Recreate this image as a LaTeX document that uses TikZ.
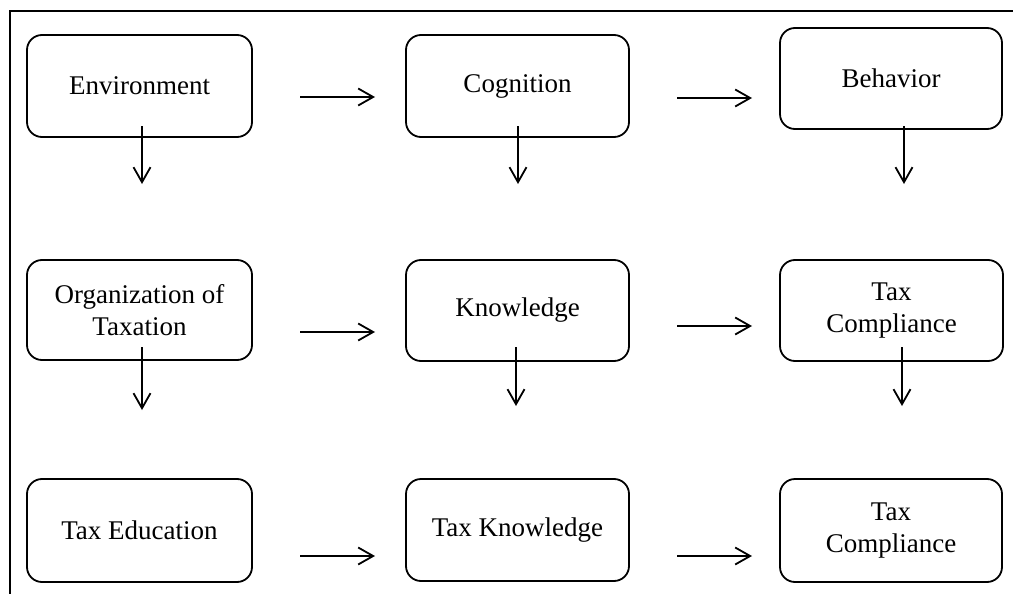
\documentclass[tikz,border=0pt]{standalone}
\usepackage{fontspec}
\setmainfont{Liberation Serif}
\usetikzlibrary{arrows.meta}
\begin{document}
\begin{tikzpicture}[x=1pt,y=-1pt,
  box/.style={draw,line width=1.8pt,rounded corners=15pt,inner sep=0pt,align=center,
    font=\fontsize{27}{32}\selectfont},
  arr/.style={line width=1.8pt,-{Straight Barb[length=15pt,width=17pt,line width=1.8pt]}},
  frame/.style={line width=2pt}]
\useasboundingbox (0,0) rectangle (1013,594);
\draw[frame] (10,594) -- (10,11) -- (1013,11);
% row 1
\node[box,minimum width=225pt,minimum height=102pt] (env) at (139.5,86) {Environment};
\node[box,minimum width=223pt,minimum height=102pt] (cog) at (517.5,86) {Cognition};
\node[box,minimum width=222pt,minimum height=101pt] (beh) at (891,78.5) {Behavior};
% row 2
\node[box,minimum width=225pt,minimum height=100pt] (org) at (139.5,310) {Organization of\\Taxation};
\node[box,minimum width=223pt,minimum height=101pt] (know) at (517.5,310.5) {Knowledge};
\node[box,minimum width=223pt,minimum height=101pt] (tc1) at (891.5,310.5) {Tax\\Compliance};
% row 3
\node[box,minimum width=225pt,minimum height=103pt] (te) at (139.5,530.5) {Tax Education};
\node[box,minimum width=223pt,minimum height=102pt] (tk) at (517.5,530) {Tax Knowledge};
\node[box,minimum width=222pt,minimum height=103pt] (tc2) at (891,530.5) {Tax\\Compliance};
% horizontal arrow end points
\coordinate (h1a) at (300,97);  \coordinate (h1b) at (375,97);
\coordinate (h2a) at (677,98);  \coordinate (h2b) at (752,98);
\coordinate (h3a) at (300,332); \coordinate (h3b) at (375,332);
\coordinate (h4a) at (677,326); \coordinate (h4b) at (752,326);
\coordinate (h5a) at (300,556); \coordinate (h5b) at (375,556);
\coordinate (h6a) at (677,556); \coordinate (h6b) at (752,556);
\foreach \i in {1,...,6} {\draw[arr] (h\i a) -- (h\i b);}
% vertical arrows
\coordinate (v1a) at (142,126); \coordinate (v1b) at (142,184);
\coordinate (v2a) at (518,126); \coordinate (v2b) at (518,184);
\coordinate (v3a) at (904,126); \coordinate (v3b) at (904,184);
\coordinate (v4a) at (142,347); \coordinate (v4b) at (142,410);
\coordinate (v5a) at (516,347); \coordinate (v5b) at (516,406);
\coordinate (v6a) at (902,347); \coordinate (v6b) at (902,406);
\foreach \i in {1,...,6} {\draw[arr] (v\i a) -- (v\i b);}
\end{tikzpicture}
\end{document}
